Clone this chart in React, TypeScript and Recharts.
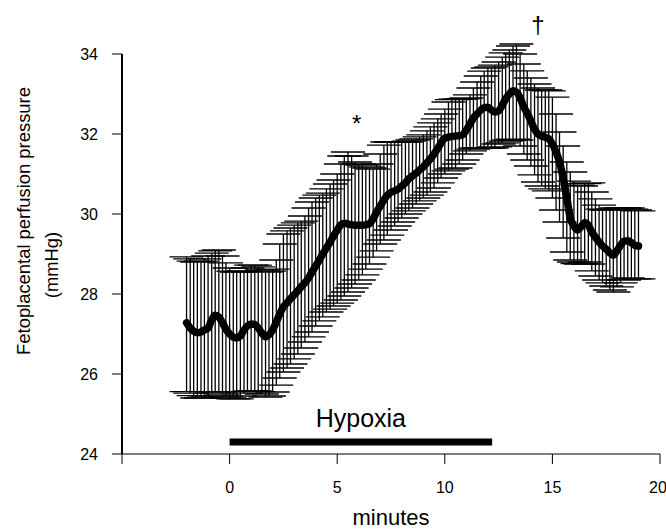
import {
  ComposedChart,
  Line,
  XAxis,
  YAxis,
  ErrorBar,
  ReferenceLine,
  ReferenceDot,
} from 'recharts';

// sample times, minutes (every 10 s)
const minutes = [
  -2, -1.83, -1.67, -1.5, -1.33, -1.17,
  -1, -0.83, -0.67, -0.5, -0.33, -0.17,
  0, 0.17, 0.33, 0.5, 0.67, 0.83,
  1, 1.17, 1.33, 1.5, 1.67, 1.83,
  2, 2.17, 2.33, 2.5, 2.67, 2.83,
  3, 3.17, 3.33, 3.5, 3.67, 3.83,
  4, 4.17, 4.33, 4.5, 4.67, 4.83,
  5, 5.17, 5.33, 5.5, 5.67, 5.83,
  6, 6.17, 6.33, 6.5, 6.67, 6.83,
  7, 7.17, 7.33, 7.5, 7.67, 7.83,
  8, 8.17, 8.33, 8.5, 8.67, 8.83,
  9, 9.17, 9.33, 9.5, 9.67, 9.83,
  10, 10.17, 10.33, 10.5, 10.67, 10.83,
  11, 11.17, 11.33, 11.5, 11.67, 11.83,
  12, 12.17, 12.33, 12.5, 12.67, 12.83,
  13, 13.17, 13.33, 13.5, 13.67, 13.83,
  14, 14.17, 14.33, 14.5, 14.67, 14.83,
  15, 15.17, 15.33, 15.5, 15.67, 15.83,
  16, 16.17, 16.33, 16.5, 16.67, 16.83,
  17, 17.17, 17.33, 17.5, 17.67, 17.83,
  18, 18.17, 18.33, 18.5, 18.67, 18.83,
  19,
];

// mean perfusion pressure, mmHg
const meanPressure = [
  27.28, 27.15, 27.07, 27.03, 27.05, 27.1,
  27.15, 27.35, 27.47, 27.42, 27.28, 27.12,
  27.0, 26.92, 26.9, 26.95, 27.1, 27.2,
  27.25, 27.24, 27.15, 27.02, 26.93, 26.98,
  27.1, 27.3, 27.5, 27.68, 27.78, 27.88,
  27.98, 28.08, 28.18, 28.28, 28.4, 28.55,
  28.7, 28.85, 29.0, 29.15, 29.3, 29.45,
  29.6, 29.73, 29.77, 29.75, 29.73, 29.72,
  29.72, 29.72, 29.73, 29.76, 29.88, 30.05,
  30.2, 30.35, 30.47, 30.54, 30.58, 30.62,
  30.7, 30.78, 30.88, 30.95, 31.02, 31.1,
  31.18, 31.28, 31.38, 31.5, 31.64, 31.78,
  31.9, 31.92, 31.94, 31.95, 31.96, 31.98,
  32.1, 32.25, 32.4, 32.5, 32.6, 32.66,
  32.67, 32.6, 32.55, 32.58, 32.72, 32.88,
  33.0, 33.08, 33.05, 32.9, 32.68, 32.52,
  32.32, 32.12, 32.0, 31.95, 31.92, 31.88,
  31.75, 31.55, 31.3, 30.9, 30.4, 29.9,
  29.7, 29.6, 29.68, 29.78, 29.72, 29.55,
  29.42, 29.3, 29.2, 29.12, 29.03, 28.97,
  29.08, 29.22, 29.32, 29.33, 29.28, 29.22,
  29.2,
];

// top of each error bar
const upperBound = [
  28.93, 28.88, 28.82, 28.8, 28.82, 28.88,
  28.95, 29.02, 29.08, 29.1, 28.95, 28.78,
  28.65, 28.57, 28.55, 28.55, 28.58, 28.65,
  28.72, 28.72, 28.68, 28.6, 28.55, 28.57,
  28.62, 28.85, 29.25, 29.5, 29.58, 29.65,
  29.72, 29.78, 29.82, 29.95, 30.15, 30.3,
  30.4, 30.47, 30.52, 30.63, 30.75, 30.85,
  31.0, 31.25, 31.45, 31.55, 31.45, 31.3,
  31.25, 31.22, 31.18, 31.15, 31.12, 31.25,
  31.5, 31.72, 31.8, 31.8, 31.8, 31.8,
  31.8, 31.8, 31.82, 31.85, 31.88, 31.93,
  31.98, 32.08, 32.18, 32.28, 32.38, 32.5,
  32.62, 32.8, 32.86, 32.87, 32.87, 32.88,
  32.9, 32.98, 33.15, 33.3, 33.45, 33.57,
  33.65, 33.68, 33.72, 33.8, 33.92, 34.03,
  34.1, 34.2, 34.25, 34.0, 33.75, 33.58,
  33.4, 33.25, 33.15, 33.1, 33.1, 33.08,
  32.92, 32.5, 32.05, 31.7, 31.3, 31.05,
  30.82, 30.72, 30.7, 30.76, 30.78, 30.55,
  30.38, 30.22, 30.12, 30.1, 30.1, 30.12,
  30.15, 30.15, 30.15, 30.15, 30.12, 30.1,
  30.08,
];

// bottom of each error bar
const lowerBound = [
  25.56, 25.52, 25.46, 25.4, 25.4, 25.42,
  25.45, 25.52, 25.56, 25.55, 25.48, 25.43,
  25.4, 25.38, 25.38, 25.45, 25.52, 25.56,
  25.58, 25.58, 25.56, 25.5, 25.42, 25.45,
  25.55, 25.72, 25.9, 26.05, 26.15, 26.25,
  26.38, 26.5, 26.65, 26.8, 26.93, 27.05,
  27.2, 27.33, 27.43, 27.55, 27.62, 27.7,
  27.77, 27.85, 27.95, 28.05, 28.15, 28.25,
  28.35, 28.48, 28.62, 28.75, 28.92, 29.08,
  29.25, 29.35, 29.47, 29.6, 29.7, 29.8,
  29.9, 30.0, 30.08, 30.15, 30.25, 30.33,
  30.4, 30.47, 30.55, 30.65, 30.78, 30.9,
  31.0, 31.08, 31.12, 31.15, 31.25, 31.35,
  31.5, 31.58, 31.62, 31.65, 31.65, 31.65,
  31.65, 31.65, 31.68, 31.75, 31.78, 31.82,
  31.85, 31.87, 31.85, 31.7, 31.5, 31.35,
  31.2, 30.98, 30.8, 30.7, 30.63, 30.58,
  30.4, 30.1, 29.8, 29.4, 29.05, 28.85,
  28.8, 28.76, 28.75, 28.8, 28.75, 28.58,
  28.45, 28.35, 28.28, 28.2, 28.1, 28.05,
  28.18, 28.28, 28.35, 28.4, 28.38, 28.38,
  28.38,
];

const xTicks = [-5, 0, 5, 10, 15, 20];
const yTicks = [24, 26, 28, 30, 32, 34];

const hypoxiaStart = 0;
const hypoxiaEnd = 12.2;
const hypoxiaLevel = 24.3;

const FONT = '"Liberation Sans", Arial, Helvetica, sans-serif';

const data = minutes.map((m, i) => ({
  minute: m,
  pressure: meanPressure[i],
  err: [meanPressure[i] - lowerBound[i], upperBound[i] - meanPressure[i]],
}));

// two-line rotated y-axis title
const YTitle = (props: any) => {
  const vb = props.viewBox || { x: 0, y: 54, width: 122, height: 400 };
  const top = vb.y;
  return (
    <g fontFamily={FONT} fontSize={18.4} fill="#000">
      <text x={30} y={top + 167} textAnchor="middle" transform={`rotate(-90 30 ${top + 167})`}>
        Fetoplacental perfusion pressure
      </text>
      <text x={58} y={top + 211} textAnchor="middle" transform={`rotate(-90 58 ${top + 211})`}>
        (mmHg)
      </text>
    </g>
  );
};

export default function App() {
  return (
    <div style={{ position: 'absolute', left: 0, top: 0, background: '#fff' }}>
      <ComposedChart
        width={666}
        height={530}
        data={data}
        margin={{ top: 54, right: 6, bottom: 0, left: 0 }}
        style={{ fontFamily: FONT }}
      >
        <XAxis
          dataKey="minute"
          type="number"
          domain={[-5, 20]}
          allowDataOverflow
          ticks={xTicks}
          tickFormatter={(v: number) => (v === -5 ? '' : String(v))}
          height={76}
          tickSize={10}
          tickMargin={18}
          stroke="#000"
          tick={{ fill: '#000', fontSize: 16 }}
          label={{ value: 'minutes', position: 'insideBottom', offset: 5, fontSize: 22, fill: '#000' }}
        />
        <YAxis
          type="number"
          domain={[24, 34]}
          allowDataOverflow
          ticks={yTicks}
          width={122}
          tickSize={10}
          tickMargin={14}
          axisLine={{ stroke: '#000', strokeWidth: 2 }}
          tickLine={{ stroke: '#000' }}
          tick={{ fill: '#000', fontSize: 16 }}
          label={<YTitle />}
        />
        <ReferenceLine
          segment={[
            { x: hypoxiaStart, y: hypoxiaLevel },
            { x: hypoxiaEnd, y: hypoxiaLevel },
          ]}
          stroke="#000"
          strokeWidth={7}
          label={{ value: 'Hypoxia', position: 'top', offset: 15, fontSize: 25, fill: '#000' }}
        />
        <Line
          dataKey="pressure"
          stroke="none"
          dot={false}
          activeDot={false}
          isAnimationActive={false}
        >
          <ErrorBar dataKey="err" width={17} stroke="#000" strokeWidth={1.3} isAnimationActive={false} />
        </Line>
        <Line
          dataKey="pressure"
          type="monotone"
          stroke="#000"
          strokeWidth={7.5}
          strokeLinejoin="round"
          strokeLinecap="round"
          dot={false}
          activeDot={false}
          isAnimationActive={false}
        />
        <ReferenceDot
          x={5.9}
          y={32.27}
          r={0}
          label={{ value: '*', position: 'center', fontSize: 24, fill: '#000' }}
        />
        <ReferenceDot
          x={14.33}
          y={34.75}
          r={0}
          label={{ value: '†', position: 'center', fontSize: 24, fill: '#000' }}
          ifOverflow="visible"
        />
      </ComposedChart>
    </div>
  );
}
